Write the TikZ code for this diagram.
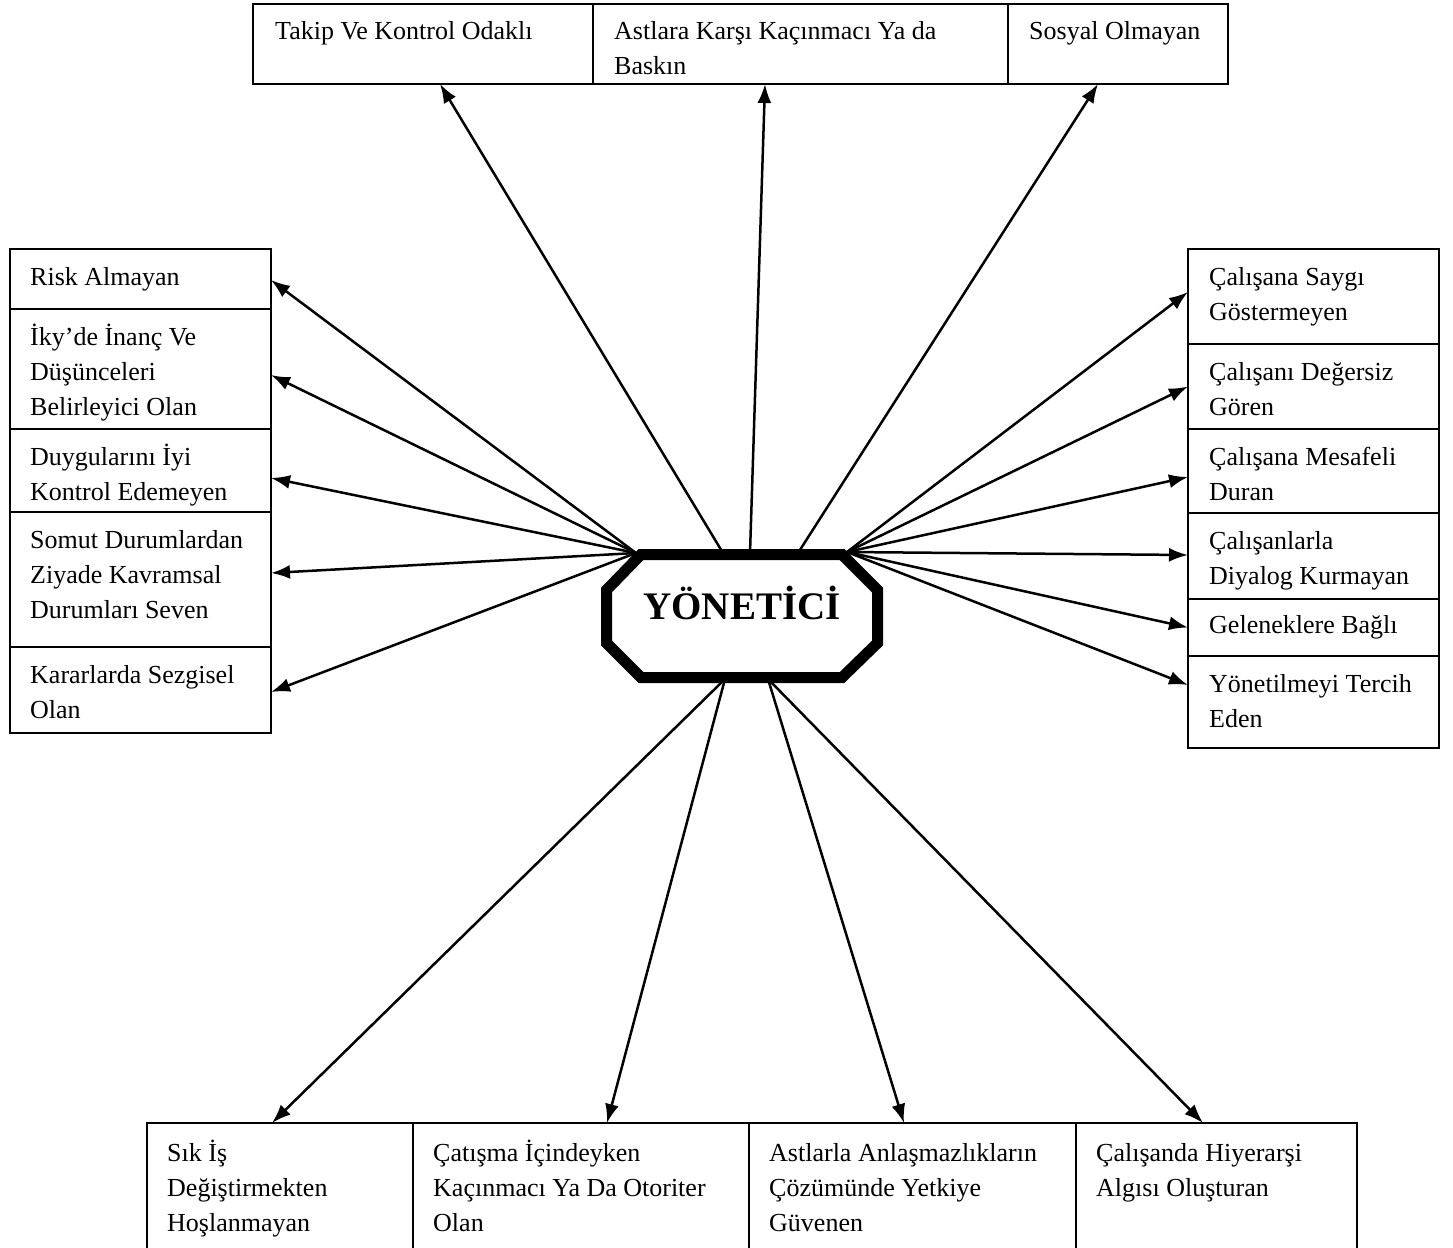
\documentclass[tikz,border=0pt]{standalone}
\usepackage{fontspec}
\setmainfont{Liberation Serif}
\usetikzlibrary{arrows.meta}
\begin{document}
\begin{tikzpicture}[x=1pt,y=-1pt,
  frame/.style={draw, line width=2pt, inner sep=0pt, outer sep=0pt, anchor=north west},
  lbl/.style={anchor=north west, inner sep=0pt, align=left, font=\fontsize{26}{35}\selectfont},
  arr/.style={line width=2.5pt, -{Latex[length=19pt,width=14pt]}}]
\clip (0,0) rectangle (1453,1247);
\fill[white] (0,0) rectangle (1453,1247);

% top row
\node[frame, minimum width=340, minimum height=80] (T1) at (253,4) {};
\node[frame, minimum width=415, minimum height=80] (T2) at (593,4) {};
\node[frame, minimum width=220, minimum height=80] (T3) at (1008,4) {};
\node[lbl] (tT1) at (275,14.5) {\strut Takip Ve Kontrol Odaklı};
\node[lbl] (tT2) at (614,14.5) {\strut Astlara Karşı Kaçınmacı Ya da\\Baskın};
\node[lbl] (tT3) at (1029,14.5) {\strut Sosyal Olmayan};

% left column
\node[frame, minimum width=261, minimum height=60]  (L1) at (10,249) {};
\node[frame, minimum width=261, minimum height=120] (L2) at (10,309) {};
\node[frame, minimum width=261, minimum height=83]  (L3) at (10,429) {};
\node[frame, minimum width=261, minimum height=135] (L4) at (10,512) {};
\node[frame, minimum width=261, minimum height=86]  (L5) at (10,647) {};
\node[lbl] (tL1) at (30,260.5) {\strut Risk Almayan};
\node[lbl] (tL2) at (30,320.5) {\strut İky’de İnanç Ve\\Düşünceleri\\Belirleyici Olan};
\node[lbl] (tL3) at (30,440.5) {\strut Duygularını İyi\\Kontrol Edemeyen};
\node[lbl] (tL4) at (30,523.5) {\strut Somut Durumlardan\\Ziyade Kavramsal\\Durumları Seven};
\node[lbl] (tL5) at (30,658.5) {\strut Kararlarda Sezgisel\\Olan};

% right column
\node[frame, minimum width=251, minimum height=95] (R1) at (1188,249) {};
\node[frame, minimum width=251, minimum height=85] (R2) at (1188,344) {};
\node[frame, minimum width=251, minimum height=84] (R3) at (1188,429) {};
\node[frame, minimum width=251, minimum height=86] (R4) at (1188,513) {};
\node[frame, minimum width=251, minimum height=57] (R5) at (1188,599) {};
\node[frame, minimum width=251, minimum height=92] (R6) at (1188,656) {};
\node[lbl] (tR1) at (1209,260.5) {\strut Çalışana Saygı\\Göstermeyen};
\node[lbl] (tR2) at (1209,355.5) {\strut Çalışanı Değersiz\\Gören};
\node[lbl] (tR3) at (1209,440.5) {\strut Çalışana Mesafeli\\Duran};
\node[lbl] (tR4) at (1209,524.5) {\strut Çalışanlarla\\Diyalog Kurmayan};
\node[lbl] (tR5) at (1209,608.5) {\strut Geleneklere Bağlı};
\node[lbl] (tR6) at (1209,667.5) {\strut Yönetilmeyi Tercih\\Eden};

% bottom row (runs past the lower edge)
\node[frame, minimum width=266, minimum height=140] (B1) at (147,1123) {};
\node[frame, minimum width=336, minimum height=140] (B2) at (413,1123) {};
\node[frame, minimum width=327, minimum height=140] (B3) at (749,1123) {};
\node[frame, minimum width=281, minimum height=140] (B4) at (1076,1123) {};
\node[lbl] (tB1) at (167,1136.5) {\strut Sık İş\\Değiştirmekten\\Hoşlanmayan};
\node[lbl] (tB2) at (433,1136.5) {\strut Çatışma İçindeyken\\Kaçınmacı Ya Da Otoriter\\Olan};
\node[lbl] (tB3) at (769,1136.5) {\strut Astlarla Anlaşmazlıkların\\Çözümünde Yetkiye\\Güvenen};
\node[lbl] (tB4) at (1096,1136.5) {\strut Çalışanda Hiyerarşi\\Algısı Oluşturan};

% connector origins on the central octagon
\coordinate (sL)  at (636,553);
\coordinate (sR)  at (847,552);
\coordinate (sT1) at (723,553);
\coordinate (sT2) at (750,553);
\coordinate (sT3) at (798,553);
\coordinate (sB1) at (725,679);
\coordinate (sB2) at (768,679);

% arrows
\draw[arr] (sT1) -- ([xshift=17pt]T1.south);
\draw[arr] (sT2) -- ([xshift=-35.5pt]T2.south);
\draw[arr] (sT3) -- ([xshift=-20pt]T3.south);

\draw[arr] (sL) -- ([yshift=-1pt]L1.east);
\draw[arr] (sL) -- ([yshift=-6pt]L2.east);
\draw[arr] (sL) -- ([yshift=-7.5pt]L3.east);
\draw[arr] (sL) -- ([yshift=6.5pt]L4.east);
\draw[arr] (sL) -- ([yshift=-2pt]L5.east);

\draw[arr] (sR) -- ([yshift=4.5pt]R1.west);
\draw[arr] (sR) -- (R2.west);
\draw[arr] (sR) -- ([yshift=-6pt]R3.west);
\draw[arr] (sR) -- ([yshift=1pt]R4.west);
\draw[arr] (sR) -- (R5.west);
\draw[arr] (sR) -- ([yshift=17pt]R6.west);

\draw[arr] (sB1) -- ([xshift=-8pt]B1.north);
\draw[arr] (sB1) -- ([xshift=26pt]B2.north);
\draw[arr] (sB2) -- ([xshift=-8.5pt]B3.north);
\draw[arr] (sB2) -- ([xshift=-13.5pt]B4.north);

% central octagon
\filldraw[fill=white, draw=black, line width=11pt, line join=miter]
  (641,554.5) -- (842,554.5) -- (877.5,590) -- (877.5,643) -- (842,677.5)
  -- (641,677.5) -- (606.5,643) -- (606.5,590) -- cycle;
\node[anchor=base, inner sep=0pt, font=\fontsize{39}{45}\selectfont\bfseries] (Y) at (742,619) {YÖNETİCİ};
\end{tikzpicture}
\end{document}
